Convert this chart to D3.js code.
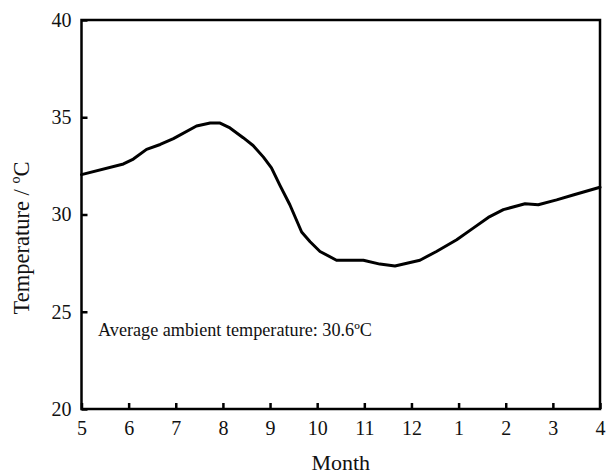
<!DOCTYPE html>
<html><head><meta charset="utf-8">
<script src="https://cdn.jsdelivr.net/npm/d3@7"></script>
<style>body{margin:0;background:#fff}svg{display:block}text{font-family:"Liberation Serif","Times New Roman",serif;fill:#111}</style>
</head><body>
<script>
// month index (0 = May ... 11 = April)
const monthPos = [0, 0.89, 1.1, 1.38, 1.67, 1.95, 2.44, 2.73, 2.94, 3.15, 3.43, 3.64, 3.86, 4.03, 4.21, 4.42, 4.67, 4.85, 5.06, 5.41, 5.98, 6.33, 6.65, 7.18, 7.53, 7.96, 8.31, 8.63, 8.95, 9.41, 9.69, 10.08, 10.43, 11.0];
const temps = [32.05, 32.6, 32.85, 33.35, 33.6, 33.9, 34.55, 34.7, 34.7, 34.45, 33.95, 33.55, 32.95, 32.4, 31.5, 30.5, 29.1, 28.6, 28.1, 27.65, 27.65, 27.45, 27.35, 27.65, 28.1, 28.7, 29.3, 29.85, 30.25, 30.55, 30.5, 30.75, 31.0, 31.4];
const xTickLabels = ["5","6","7","8","9","10","11","12","1","2","3","4"];
const yTicks = [20, 25, 30, 35, 40];
const annotation = "Average ambient temperature: 30.6ºC";

const W = 607, H = 474;
const m = {left: 81.5, right: 7, top: 20, bottom: 65};
const svg = d3.select("body").append("svg").attr("width", W).attr("height", H);
const x = d3.scaleLinear().domain([0, 11]).range([m.left, W - m.right]);
const y = d3.scaleLinear().domain([20, 40]).range([H - m.bottom, m.top]);

// frame
svg.append("rect").attr("x", x(0)).attr("y", y(40)).attr("width", x(11) - x(0)).attr("height", y(20) - y(40))
  .attr("fill", "none").attr("stroke", "#000").attr("stroke-width", 2.5);

// x axis
const xAxis = d3.axisBottom(x).tickValues(d3.range(12)).tickFormat(i => xTickLabels[i]).tickSizeInner(-6).tickSizeOuter(0).tickPadding(12);
const gx = svg.append("g").attr("transform", `translate(0,${y(20)})`).call(xAxis);
gx.select(".domain").remove();
gx.selectAll("line").attr("stroke", "#000").attr("stroke-width", 2.5);
gx.selectAll("text").style("font-size", "20px").style("font-family", "Liberation Serif");

// y axis
const yAxis = d3.axisLeft(y).tickValues(yTicks).tickSizeInner(-6).tickSizeOuter(0).tickPadding(10);
const gy = svg.append("g").attr("transform", `translate(${x(0)},0)`).call(yAxis);
gy.select(".domain").remove();
gy.selectAll("line").attr("stroke", "#000").attr("stroke-width", 2.5);
gy.selectAll("text").style("font-size", "20px").style("font-family", "Liberation Serif");

// line
const line = d3.line().x((d, i) => x(monthPos[i])).y(d => y(d)).curve(d3.curveLinear);
svg.append("path").datum(temps).attr("d", line).attr("fill", "none").attr("stroke", "#000")
  .attr("stroke-width", 3).attr("stroke-linejoin", "round").attr("stroke-linecap", "round");

// labels
svg.append("text").attr("x", (x(0) + x(11)) / 2).attr("y", 470).attr("text-anchor", "middle").style("font-size", "22px").text("Month");
svg.append("text").attr("transform", `translate(29,238) rotate(-90)`).attr("text-anchor", "middle").style("font-size", "22.5px").text("Temperature / ºC");
svg.append("text").attr("x", 98).attr("y", 336).style("font-size", "18.2px").text(annotation);
</script>
</body></html>
